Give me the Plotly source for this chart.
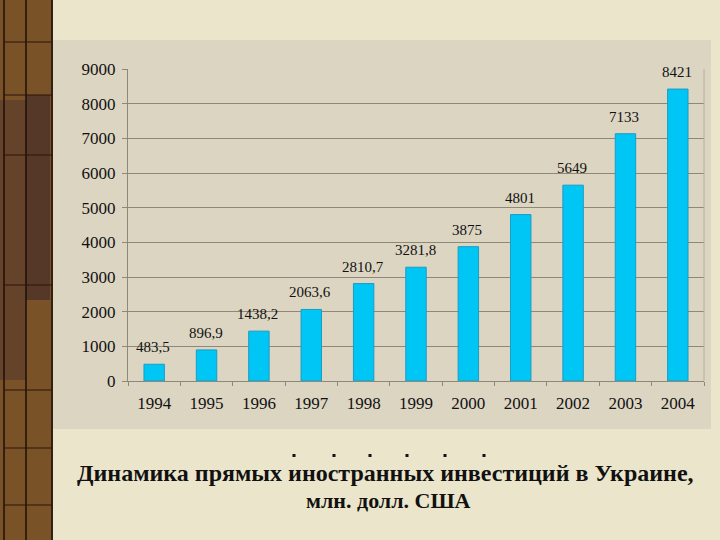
import plotly.graph_objects as go

years = ["1994", "1995", "1996", "1997", "1998", "1999", "2000", "2001", "2002", "2003", "2004"]
values = [483.5, 896.9, 1438.2, 2063.6, 2810.7, 3281.8, 3875, 4801, 5649, 7133, 8421]
labels = ["483,5", "896,9", "1438,2", "2063,6", "2810,7", "3281,8", "3875", "4801", "5649", "7133", "8421"]
title_line1 = "Динамика прямых иностранных инвестиций в Украине,"
title_line2 = "млн. долл. США"

W, H = 720, 540
L, R, T, B = 128, 704, 69, 381  # plot area in pixels


def px(x):
    return (x - L) / (R - L)


def py(y):
    return (B - y) / (B - T)


fig = go.Figure()
fig.add_trace(go.Bar(
    x=years, y=values,
    marker=dict(color="#00c6f6", line=dict(color="#1a9cc4", width=1)),
    width=0.39, hoverinfo="skip",
))

shapes = []
# panel background
shapes.append(dict(type="rect", xref="paper", yref="paper", x0=px(53), x1=px(711), y0=py(429), y1=py(40),
                   fillcolor="#dcd5c2", line=dict(width=0), layer="below"))
# left wooden strip
shapes.append(dict(type="rect", xref="paper", yref="paper", x0=px(0), x1=px(53), y0=py(540), y1=py(0),
                   fillcolor="#7a5228", line=dict(width=0), layer="below"))
shapes.append(dict(type="rect", xref="paper", yref="paper", x0=px(0), x1=px(26), y0=py(380), y1=py(100),
                   fillcolor="#65422a", line=dict(width=0), layer="below"))
shapes.append(dict(type="rect", xref="paper", yref="paper", x0=px(26), x1=px(50), y0=py(300), y1=py(95),
                   fillcolor="#563828", line=dict(width=0), layer="below"))
for xv in [4, 26, 52]:
    shapes.append(dict(type="line", xref="paper", yref="paper", x0=px(xv), x1=px(xv), y0=py(540), y1=py(0),
                       line=dict(color="#1e0f08", width=1.5), layer="below"))
for yv in [42, 95, 155, 285, 390, 448, 505]:
    shapes.append(dict(type="line", xref="paper", yref="paper", x0=px(4), x1=px(52), y0=py(yv), y1=py(yv),
                       line=dict(color="#2a1208", width=1), layer="below"))
# stray dots above caption
for xv in [294, 334, 370, 407, 445, 484]:
    shapes.append(dict(type="rect", xref="paper", yref="paper", x0=px(xv - 1.5), x1=px(xv + 1.5),
                       y0=py(457), y1=py(454), fillcolor="#111111", line=dict(width=0)))

annotations = [
    dict(text=title_line1, xref="paper", yref="paper", x=px(385), y=py(473),
         showarrow=False, font=dict(family="Liberation Serif", size=24, color="#111111", weight="bold"),
         xanchor="center", yanchor="middle"),
    dict(text=title_line2, xref="paper", yref="paper", x=px(388), y=py(500),
         showarrow=False, font=dict(family="Liberation Serif", size=22, color="#111111", weight="bold"),
         xanchor="center", yanchor="middle"),
]
# value labels above bars (category index on the x axis)
for i, (v, lab) in enumerate(zip(values, labels)):
    annotations.append(dict(text=lab, x=i, y=v, xref="x", yref="y", showarrow=False,
                            yanchor="middle", yshift=17, xshift=-1,
                            font=dict(family="Liberation Serif", size=15, color="#111111")))

fig.update_layout(
    width=W, height=H,
    margin=dict(l=L, r=W - R, t=T, b=H - B, pad=0),
    paper_bgcolor="#ebe5cb",
    plot_bgcolor="#dcd5c2",
    showlegend=False,
    shapes=shapes,
    annotations=annotations,
    xaxis=dict(
        type="category", range=[-0.5, len(years) - 0.5], showgrid=False, ticks="outside",
        tickson="boundaries", ticklen=4,
        tickcolor="#8f8878", showline=True, linecolor="#8f8878", linewidth=1,
        tickfont=dict(family="Liberation Serif", size=17, color="#111111"),
        ticklabelstandoff=7,
    ),
    yaxis=dict(
        range=[0, 9000], dtick=1000, showgrid=True, gridcolor="#8f8878", gridwidth=1,
        ticks="outside", ticklen=5, tickcolor="#8f8878", showline=True, linecolor="#8f8878",
        linewidth=1, zeroline=False,
        tickfont=dict(family="Liberation Serif", size=17, color="#111111"),
        ticklabelstandoff=3,
    ),
)
# right border line of the plot area
fig.add_shape(type="line", xref="paper", yref="paper", x0=1, x1=1, y0=0, y1=1,
              line=dict(color="#b8b09e", width=1))

fig.write_html("out.html", config={"displayModeBar": False},
               post_script="document.body.style.margin='0';document.body.style.overflow='hidden';")
